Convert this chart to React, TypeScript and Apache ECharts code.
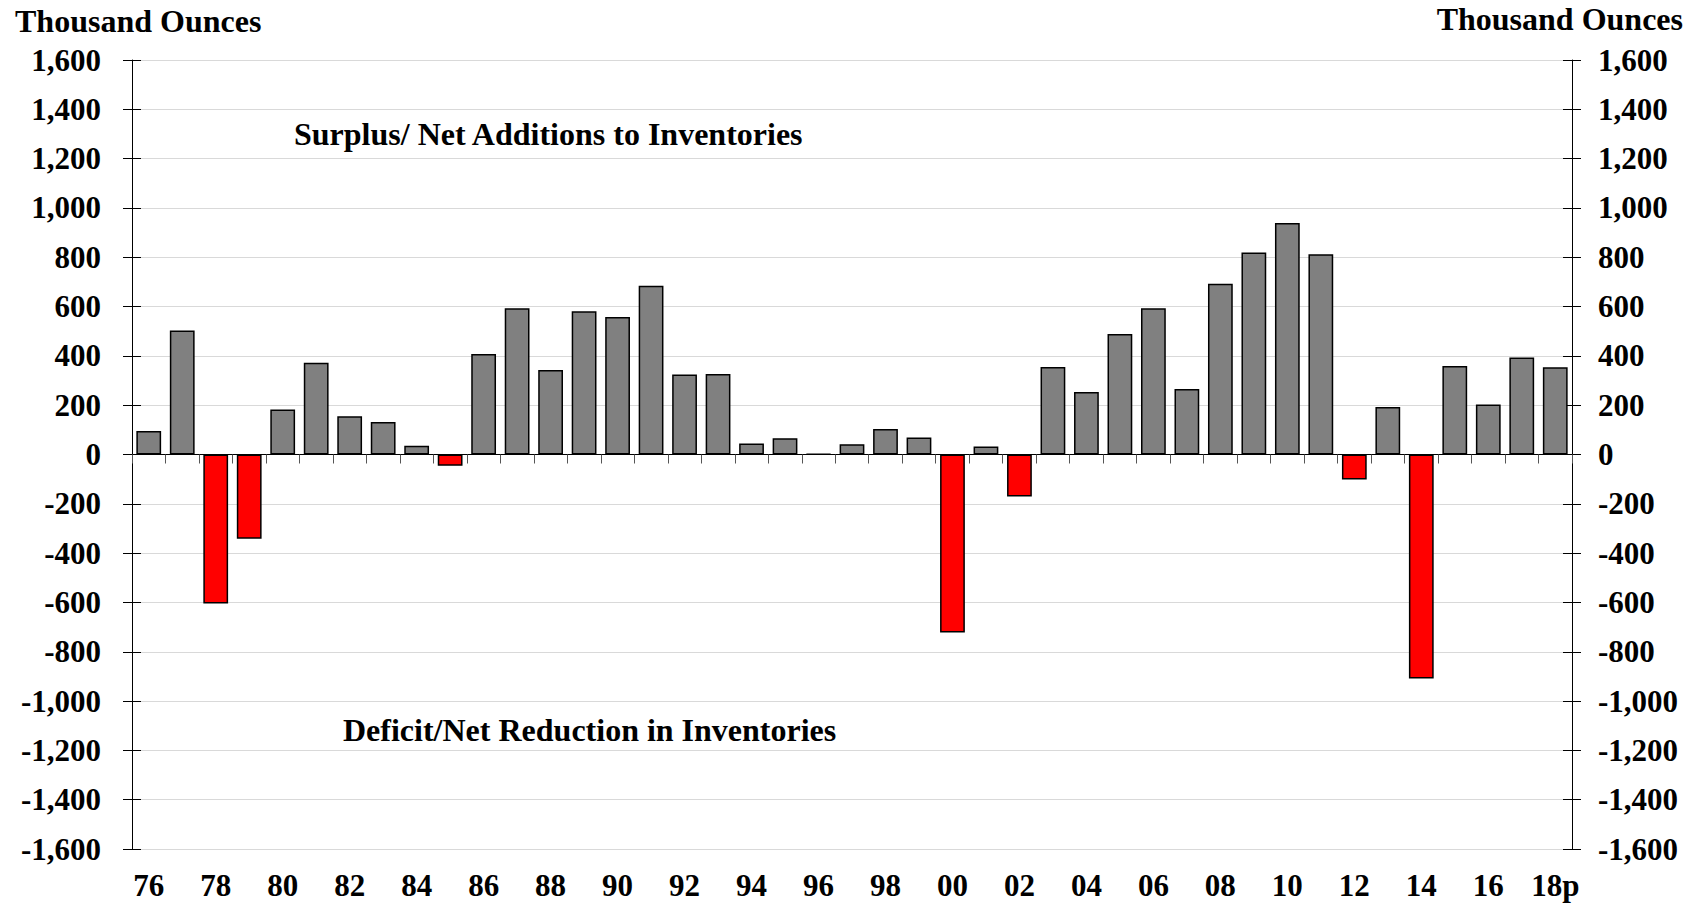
import React, { useEffect, useRef } from "react";
import * as echarts from "echarts";

const years: string[] = [
  "76", "77", "78", "79", "80", "81", "82", "83", "84", "85",
  "86", "87", "88", "89", "90", "91", "92", "93", "94", "95",
  "96", "97", "98", "99", "00", "01", "02", "03", "04", "05",
  "06", "07", "08", "09", "10", "11", "12", "13", "14", "15",
  "16", "17", "18p",
];

const balance: number[] = [
  95, 503, -604, -342, 183, 372, 155, 132, 35, -46,
  408, 593, 343, 581, 558, 684, 324, 326, 45, 66,
  2, 42, 103, 69, -722, 32, -170, 355, 253, 489,
  593, 266, 693, 819, 939, 812, -101, 193, -908, 359,
  203, 393, 354,
];

const unitLabel = "Thousand Ounces";
const surplusLabel = "Surplus/ Net Additions to Inventories";
const deficitLabel = "Deficit/Net Reduction in Inventories";

const FONT = "'Liberation Serif', 'Times New Roman', serif";

export default function App() {
  const ref = useRef<HTMLDivElement>(null);

  useEffect(() => {
    if (!ref.current) return;
    const chart = echarts.init(ref.current, undefined, { renderer: "svg" });
    const fmt = (v: number) => v.toLocaleString("en-US");
    const labelStyle = {
      fontFamily: FONT,
      fontWeight: "bold" as const,
      fontSize: 31,
      color: "#000",
    };
    const yBase = { type: "value" as const, min: -1600, max: 1600, interval: 200 };
    chart.setOption({
      animation: false,
      backgroundColor: "#fff",
      grid: { left: 132, right: 130, top: 60, bottom: 54, containLabel: false },
      xAxis: [
        {
          type: "category",
          data: years,
          position: "bottom",
          boundaryGap: true,
          axisLine: { show: false, onZero: false },
          axisTick: { show: false },
          axisLabel: { ...labelStyle, interval: 1, margin: 21 },
          splitLine: { show: false },
        },
        {
          type: "category",
          data: years,
          position: "bottom",
          boundaryGap: true,
          axisLine: { show: true, onZero: true, lineStyle: { color: "#000", width: 1 } },
          axisTick: { show: true, interval: 0, length: 9, lineStyle: { color: "#555", width: 1 } },
          axisLabel: { show: false },
          splitLine: { show: false },
        },
      ],
      yAxis: [
        {
          ...yBase,
          position: "left",
          axisLine: { show: true, lineStyle: { color: "#000", width: 1 } },
          axisTick: { show: true, length: 9, lineStyle: { color: "#000", width: 1 } },
          axisLabel: { ...labelStyle, margin: 31, formatter: fmt },
          splitLine: { show: true, lineStyle: { color: "#d9d9d9", width: 1 } },
        },
        {
          ...yBase,
          position: "right",
          axisLine: { show: true, lineStyle: { color: "#000", width: 1 } },
          axisTick: { show: true, length: 9, lineStyle: { color: "#000", width: 1 } },
          axisLabel: { ...labelStyle, margin: 26, formatter: fmt },
          splitLine: { show: false },
        },
        {
          ...yBase,
          position: "left",
          axisLine: { show: false },
          axisTick: { show: true, inside: true, length: 9, lineStyle: { color: "#000", width: 1 } },
          axisLabel: { show: false },
          splitLine: { show: false },
        },
        {
          ...yBase,
          position: "right",
          axisLine: { show: false },
          axisTick: { show: true, inside: true, length: 9, lineStyle: { color: "#000", width: 1 } },
          axisLabel: { show: false },
          splitLine: { show: false },
        },
      ],
      graphic: [
        {
          type: "text",
          left: 15,
          top: 5,
          style: { text: unitLabel, font: `bold 32px ${FONT}`, fill: "#000" },
        },
        {
          type: "text",
          right: 19,
          top: 3,
          style: { text: unitLabel, font: `bold 32px ${FONT}`, fill: "#000" },
        },
        {
          type: "text",
          x: 294,
          y: 134,
          style: {
            text: surplusLabel,
            font: `bold 32px ${FONT}`,
            fill: "#000",
            textVerticalAlign: "middle",
          },
        },
        {
          type: "text",
          x: 343,
          y: 730,
          style: {
            text: deficitLabel,
            font: `bold 32px ${FONT}`,
            fill: "#000",
            textVerticalAlign: "middle",
          },
        },
      ],
      series: [
        {
          type: "bar",
          xAxisIndex: 0,
          yAxisIndex: 0,
          data: balance,
          barWidth: "74%",
          itemStyle: {
            color: (p: any) => (p.value < 0 ? "#ff0000" : "#808080"),
            borderColor: "#000",
            borderWidth: 1.5,
          },
        },
      ],
    });
    return () => chart.dispose();
  }, []);

  return (
    <div
      ref={ref}
      style={{ position: "absolute", left: 0, top: 0, width: 1702, height: 903 }}
    />
  );
}
